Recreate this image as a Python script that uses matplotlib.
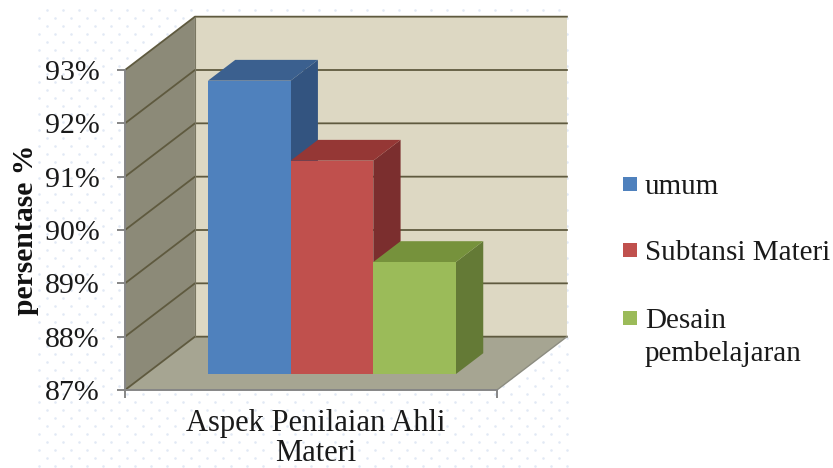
import matplotlib
matplotlib.use('Agg')
import matplotlib.pyplot as plt
import numpy as np
from matplotlib.patches import Polygon, Rectangle

plt.rcParams['font.family'] = ['Liberation Serif', 'DejaVu Serif']

# values
categories = ['Aspek Penilaian Ahli\nMateri']
series_names = ['umum', 'Subtansi Materi', 'Desain\npembelajaran']
values = [92.5, 91.0, 89.1]
yticks = [87, 88, 89, 90, 91, 92, 93]

front_colors = ['#4F81BD', '#C0504D', '#9BBB59']
top_colors = ['#3B608F', '#953735', '#76923C']
side_colors = ['#335480', '#7B2E2E', '#647A36']

W, H = 833, 468
fig = plt.figure(figsize=(W / 100, H / 100), dpi=100, facecolor='white')

# faint dotted page pattern behind the chart
bg = fig.add_axes([0, 0, 1, 1], zorder=0)
bg.set_xlim(0, W)
bg.set_ylim(H, 0)
bg.axis('off')
gx, gy = np.meshgrid(np.arange(39, 570, 8), np.arange(10, 468, 8))
keep = (gx - 47 + gy - 10) % 16 == 0
bg.scatter(gx[keep], gy[keep], s=3.5, color='#E2E9F5', linewidths=0)

ax = fig.add_axes([125 / W, 1 - 390 / H, 372 / W, 320 / H], zorder=1)
ax.patch.set_visible(False)
ax.set_xlim(0, 1)
ax.set_ylim(87, 93)

# depth of the 3d box in axis units
DX, DY = 0.188, 1.0


def proj(x, y, d):
    return (x + d * DX, y + d * DY)


def face(points, color, z, edge='none', lw=0):
    ax.add_patch(Polygon([proj(*p) for p in points], closed=True, facecolor=color,
                         edgecolor=edge, linewidth=lw, clip_on=False, zorder=z))


# walls and floor
face([(0, 87, 1), (1, 87, 1), (1, 93, 1), (0, 93, 1)], '#DDD8C3', 1)
face([(0, 87, 0), (0, 87, 1), (0, 93, 1), (0, 93, 0)], '#8C8A78', 1)
face([(0, 87, 0), (1, 87, 0), (1, 87, 1), (0, 87, 1)], '#A6A592', 1)

grid_color = '#5F5A3F'
for t in yticks:
    x0, y0 = proj(0, t, 0)
    x1, y1 = proj(0, t, 1)
    x2, y2 = proj(1, t, 1)
    ax.plot([x0, x1, x2], [y0, y1, y2], color=grid_color, lw=1.3, clip_on=False, zorder=2)
x0, y0 = proj(0, 87, 1)
x1, y1 = proj(0, 93, 1)
ax.plot([x0, x1], [y0, y1], color='#7A7762', lw=0.8, clip_on=False, zorder=2)
x0, y0 = proj(1, 87, 0)
x1, y1 = proj(1, 87, 1)
ax.plot([x0, x1], [y0, y1], color='#8C8C80', lw=1, clip_on=False, zorder=2)

# bars, left to right so each front hides the side of the bar before it
bar_w = 2 / 9
d0, d1 = 0.3, 0.69
for i, v in enumerate(values):
    l = 1 / 6 + i * bar_w
    r = l + bar_w
    z = 3 + i
    face([(r, 87, d0), (r, 87, d1), (r, v, d1), (r, v, d0)], side_colors[i], z)
    face([(l, v, d0), (r, v, d0), (r, v, d1), (l, v, d1)], top_colors[i], z)
    face([(l, 87, d0), (r, 87, d0), (r, v, d0), (l, v, d0)], front_colors[i], z)

# axes
for s in ['top', 'right']:
    ax.spines[s].set_visible(False)
for s in ['left', 'bottom']:
    ax.spines[s].set_color('#868686')
    ax.spines[s].set_linewidth(1.4)
    ax.spines[s].set_zorder(8)
ax.set_yticks(yticks)
ax.set_yticklabels(['%d%%' % t for t in yticks], fontsize=21.5, color='#1a1a1a')
ax.tick_params(axis='y', length=6, width=1.4, color='#868686', pad=12.5)
ax.set_xticks([0, 1])
ax.set_xticklabels(['', ''])
ax.tick_params(axis='x', which='major', length=6, width=1.4, color='#868686')
ax.set_xticks([0.513], labels=categories, minor=True)
ax.tick_params(axis='x', which='minor', length=0, pad=14, labelsize=22, labelcolor='#1a1a1a')
for lab in ax.get_xticklabels(minor=True):
    lab.set_linespacing(1.02)
ax.set_ylabel('persentase %', fontsize=21.3, fontweight='bold', color='#111111')
ax.yaxis.set_label_coords(-0.23, 0.5)

# legend, marker sits on the first text line
legend_y = [184, 250, 318]
for name, col, y in zip(series_names, front_colors, legend_y):
    fig.add_artist(Rectangle((623 / W, 1 - (y + 7) / H), 14 / W, 14 / H, facecolor=col,
                             edgecolor='none', transform=fig.transFigure))
    fig.text(645 / W, 1 - (y - 10.5) / H, name, fontsize=21, color='#1a1a1a', va='top',
             linespacing=1.39)

fig.savefig('out.png', dpi=100)
